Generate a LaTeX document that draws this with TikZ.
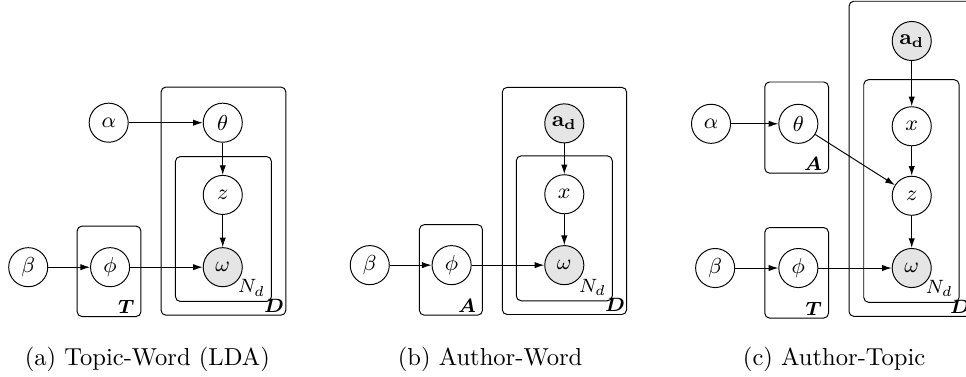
\documentclass[tikz,border=0pt]{standalone}
\usepackage{amsmath,amssymb}
\usepackage{tikz}
\usetikzlibrary{arrows.meta,positioning,calc}
\definecolor{observed}{gray}{0.9}

\begin{document}
\begin{tikzpicture}[
  latent/.style={draw, circle, minimum size=0.57cm, inner sep=0pt, font=\small},
  obs/.style={latent, fill=observed},
  edge/.style={-{Latex[length=4pt,width=2.6pt]}},
  plate/.style={draw, rounded corners=2pt},
  platelbl/.style={anchor=south east, inner xsep=2.5pt, inner ysep=1pt, font=\footnotesize},
  outerlbl/.style={platelbl, inner xsep=0.6pt},
  caption/.style={anchor=base, font=\fontsize{10.2}{12}\selectfont},
]
\useasboundingbox (0,0) rectangle (14.094,-5.5);
\clip (0,0) rectangle (14.094,-5.5);

% (a) Topic-Word
\node[latent] (thetaA) at (3.25,-1.79) {$\theta$};
\node[latent, below=0.47cm of thetaA] (zA) {$z$};
\node[obs, below=0.47cm of zA] (wA) {$\omega$};
\node[latent, left=1.08cm of thetaA] (alphaA) {$\alpha$};
\node[latent, left=1.06cm of wA] (phiA) {$\phi$};
\node[latent, left=0.61cm of phiA] (betaA) {$\beta$};

\draw[edge] (alphaA) -- (thetaA);
\draw[edge] (thetaA) -- (zA);
\draw[edge] (zA) -- (wA);
\draw[edge] (betaA) -- (phiA);
\draw[edge] (phiA) -- (wA);

\draw[plate] ($(phiA)+(-0.48,0.60)$) rectangle ($(phiA)+(0.45,-0.72)$) coordinate (tA);
\draw[plate] ($(zA)+(-0.69,0.56)$) rectangle ($(wA)+(0.71,-0.50)$) coordinate (nA);
\draw[plate] ($(thetaA)+(-0.90,0.52)$) rectangle ($(wA)+(0.92,-0.70)$) coordinate (dA);
\node[platelbl] (lblTA) at (tA) {$\boldsymbol{T}$};
\node[platelbl, inner ysep=2pt] (lblNA) at (nA) {$N_d$};
\node[outerlbl] (lblDA) at (dA) {$\boldsymbol{D}$};

\node[caption] (capA) at (2.15,-5.33) {(a) Topic-Word (LDA)};

% (b) Author-Word
\node[obs] (adB) at (8.233,-1.80) {$\mathbf{a_d}$};
\node[latent, below=0.45cm of adB] (xB) {$x$};
\node[obs, below=0.45cm of xB] (wB) {$\omega$};
\node[latent, left=1.06cm of wB] (phiB) {$\phi$};
\node[latent, left=0.61cm of phiB] (betaB) {$\beta$};

\draw[edge] (adB) -- (xB);
\draw[edge] (xB) -- (wB);
\draw[edge] (betaB) -- (phiB);
\draw[edge] (phiB) -- (wB);

\draw[plate] ($(phiB)+(-0.47,0.59)$) rectangle ($(phiB)+(0.45,-0.73)$) coordinate (aB);
\draw[plate] ($(xB)+(-0.70,0.56)$) rectangle ($(wB)+(0.70,-0.52)$) coordinate (nB);
\draw[plate] ($(adB)+(-0.905,0.525)$) rectangle ($(wB)+(0.91,-0.72)$) coordinate (dB);
\node[platelbl] (lblAB) at (aB) {$\boldsymbol{A}$};
\node[platelbl, inner ysep=2pt] (lblNB) at (nB) {$N_d$};
\node[outerlbl] (lblDB) at (dB) {$\boldsymbol{D}$};

\node[caption] (capB) at (7.15,-5.33) {(b) Author-Word};

% (c) Author-Topic
\node[obs] (adC) at (13.302,-0.598) {$\mathbf{a_d}$};
\node[latent, below=0.66cm of adC] (xC) {$x$};
\node[latent, below=0.43cm of xC] (zC) {$z$};
\node[obs, below=0.47cm of zC] (wC) {$\omega$};
\node[latent, left=1.07cm of wC] (phiC) {$\phi$};
\node[latent, left=0.63cm of phiC] (betaC) {$\beta$};
\node[latent, above=1.52cm of phiC] (thetaC) {$\theta$};
\node[latent, left=0.69cm of thetaC] (alphaC) {$\alpha$};

\draw[edge] (adC) -- (xC);
\draw[edge] (xC) -- (zC);
\draw[edge] (zC) -- (wC);
\draw[edge] (alphaC) -- (thetaC);
\draw[edge] (thetaC) -- (zC);
\draw[edge] (betaC) -- (phiC);
\draw[edge] (phiC) -- (wC);

\draw[plate] ($(thetaC)+(-0.49,0.61)$) rectangle ($(thetaC)+(0.44,-0.72)$) coordinate (aC);
\draw[plate] ($(phiC)+(-0.49,0.59)$) rectangle ($(phiC)+(0.44,-0.73)$) coordinate (tC);
\draw[plate] ($(xC)+(-0.70,0.68)$) rectangle ($(wC)+(0.69,-0.50)$) coordinate (nC);
\draw[plate] ($(adC)+(-0.915,0.58)$) rectangle ($(wC)+(0.875,-0.705)$) coordinate (dC);
\node[platelbl] (lblAC) at (aC) {$\boldsymbol{A}$};
\node[platelbl] (lblTC) at (tC) {$\boldsymbol{T}$};
\node[platelbl, inner ysep=2pt] (lblNC) at (nC) {$N_d$};
\node[outerlbl] (lblDC) at (dC) {$\boldsymbol{D}$};

\node[caption] (capC) at (12.17,-5.33) {(c) Author-Topic};
\end{tikzpicture}
\end{document}
